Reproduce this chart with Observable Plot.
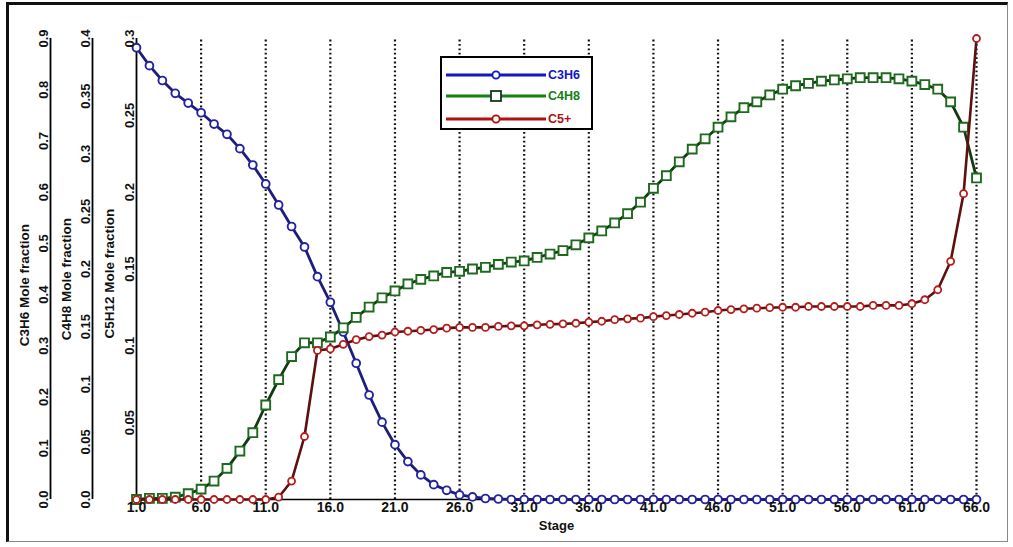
<!DOCTYPE html>
<html><head><meta charset="utf-8">
<script src="https://cdn.jsdelivr.net/npm/d3@7"></script>
<script src="https://cdn.jsdelivr.net/npm/@observablehq/plot@0.6"></script>
<style>
html,body{margin:0;padding:0;background:#fff;}
#wrap{position:relative;width:1013px;height:547px;overflow:hidden;font-family:"Liberation Sans",Arial,sans-serif;}
#border{position:absolute;left:6px;top:2px;width:1002px;height:540px;border:3px solid #111;border-right:1px solid #888;border-bottom:1px solid #888;box-sizing:border-box;pointer-events:none;}
#legend{position:absolute;left:440px;top:56px;width:153px;height:74px;border:2px solid #000;background:#fff;box-sizing:border-box;}
#legend .row{position:absolute;left:0;height:20px;width:150px;}
#legend svg{position:absolute;left:0;top:0;}
#legend span{position:absolute;left:106px;top:3px;font-size:12.5px;font-weight:bold;}
svg{overflow:visible}
</style></head>
<body><div id="wrap"><div id="chart"></div><div id="legend"></div><div id="border"></div></div>
<script>
// ---- data ----
const stages = d3.range(1, 67);
const c3h6 = [0.882,0.847,0.818,0.793,0.774,0.755,0.733,0.713,0.685,0.653,
  0.616,0.575,0.533,0.493,0.435,0.385,0.327,0.266,0.204,0.151,
  0.107,0.074,0.048,0.029,0.018,0.009,0.005,0.002,0.001,0,
  0,0,0,0,0,0,0,0,0,0, 0,0,0,0,0,0,0,0,0,0, 0,0,0,0,0,0,0,0,0,0, 0,0,0,0,0,0];
const c4h8 = [0,0.001,0.001,0.002,0.005,0.009,0.016,0.027,0.042,0.058,
  0.082,0.104,0.124,0.136,0.136,0.141,0.149,0.158,0.167,0.175,
  0.181,0.187,0.191,0.194,0.197,0.198,0.200,0.2015,0.204,0.206,
  0.207,0.210,0.213,0.216,0.221,0.227,0.233,0.240,0.248,0.258,
  0.270,0.281,0.293,0.304,0.313,0.323,0.332,0.340,0.345,0.351,
  0.356,0.359,0.361,0.363,0.364,0.365,0.366,0.366,0.366,0.365,
  0.363,0.360,0.356,0.345,0.323,0.279];
const c5plus = [0,0,0,0,0,0,0,0,0,0,
  0,0.0015,0.012,0.041,0.097,0.098,0.101,0.104,0.106,0.107,
  0.109,0.1095,0.110,0.1106,0.1115,0.112,0.112,0.112,0.1126,0.113,
  0.113,0.1137,0.114,0.1143,0.1147,0.1154,0.116,0.117,0.1176,0.118,
  0.119,0.1197,0.1204,0.1212,0.1219,0.123,0.1236,0.1241,0.1245,0.1248,
  0.1251,0.1251,0.1256,0.1256,0.1256,0.1256,0.1256,0.1263,0.1263,0.1263,
  0.1274,0.130,0.1365,0.155,0.199,0.300];
const seriesNames = ["C3H6", "C4H8", "C5+"];
const axisMax = {C3H6: 0.9, C4H8: 0.4, C5H12: 0.3};
const xTicks = [1,6,11,16,21,26,31,36,41,46,51,56,61,66];
const xTickLabels = ["1.0","6.0","11.0","16.0","21.0","26.0","31.0","36.0","41.0","46.0","51.0","56.0","61.0","66.0"];
const gridStages = [6,11,16,21,26,31,36,41,46,51,56,61,66];
const c3h6Ticks = [0,0.1,0.2,0.3,0.4,0.5,0.6,0.7,0.8,0.9];
const c3h6TickLabels = ["0.0","0.1","0.2","0.3","0.4","0.5","0.6","0.7","0.8","0.9"];
const c4h8Ticks = [0,0.05,0.1,0.15,0.2,0.25,0.3,0.35,0.4];
const c4h8TickLabels = ["0.0","0.05","0.1","0.15","0.2","0.25","0.3","0.35","0.4"];
const c5h12Ticks = [0.05,0.1,0.15,0.2,0.25,0.3];
const c5h12TickLabels = ["0.05","0.1","0.15","0.2","0.25","0.3"];
const axisTitles = ["C3H6 Mole fraction", "C4H8 Mole fraction", "C5H12 Mole fraction"];
const xTitle = "Stage";

// styles
const lineColors = {"C3H6": "#1d1d7c", "C4H8": "#143a14", "C5+": "#5e0f0f"};
const markColors = {"C3H6": "#2424a0", "C4H8": "#1d6a1d", "C5+": "#b51c1c"};
const legendColors = {"C3H6": "#1414c8", "C4H8": "#138013", "C5+": "#b01010"};

const mk = (vals, max) => stages.map((s, i) => ({stage: s, v: vals[i] / max}));
const d1 = mk(c3h6, axisMax.C3H6), d2 = mk(c4h8, axisMax.C4H8), d3s = mk(c5plus, axisMax.C5H12);

function yAxis(ticks, labels, max, dx) {
  const fr = ticks.map(t => t / max);
  return Plot.axisY(fr, {anchor: "left", dx, tickSize: 0, tickPadding: 3, tickRotate: -90,
    tickFormat: d => labels[fr.indexOf(d)], fontSize: 13, fontWeight: "bold", label: null});
}
function title(t, dx, yc) {
  return Plot.text([t], {x: () => 1, y: () => yc, text: d => d, rotate: -90, dx,
    fontSize: 13.5, fontWeight: "bold", fill: "#111"});
}

const chart = Plot.plot({
  width: 1013, height: 547,
  marginLeft: 136, marginRight: 37, marginTop: 38, marginBottom: 48,
  x: {domain: [1, 66]},
  y: {domain: [0, 1]},
  style: {fontFamily: "'Liberation Sans', Arial, sans-serif", background: "transparent", color: "#111"},
  marks: [
    Plot.ruleX(gridStages, {y1: 0, y2: 1, stroke: "#111", strokeWidth: 2.2, strokeDasharray: "1.8,2.6"}),
    Plot.ruleY([0], {stroke: "#000", strokeWidth: 1.6}),
    Plot.ruleX([1], {y1: 0, y2: 1, stroke: "#000", strokeWidth: 1.8, dx: -86}),
    Plot.ruleX([1], {y1: 0, y2: 1, stroke: "#000", strokeWidth: 1.8, dx: -44}),
    Plot.ruleX([1], {y1: 0, y2: 1, stroke: "#000", strokeWidth: 1.8}),
    Plot.line(d1, {x: "stage", y: "v", stroke: lineColors["C3H6"], strokeWidth: 2.8}),
    Plot.dot(d1, {x: "stage", y: "v", r: 3.9, stroke: markColors["C3H6"], strokeWidth: 1.9, fill: "#fff"}),
    Plot.line(d2, {x: "stage", y: "v", stroke: lineColors["C4H8"], strokeWidth: 2.8}),
    Plot.dot(d2, {x: "stage", y: "v", symbol: "square", r: 5, stroke: markColors["C4H8"], strokeWidth: 1.9, fill: "#fff"}),
    Plot.line(d3s, {x: "stage", y: "v", stroke: lineColors["C5+"], strokeWidth: 2.6}),
    Plot.dot(d3s, {x: "stage", y: "v", r: 3.5, stroke: markColors["C5+"], strokeWidth: 1.8, fill: "#fff"}),
    Plot.axisX(xTicks, {tickSize: 0, tickPadding: 3, tickFormat: d => xTickLabels[xTicks.indexOf(d)],
      fontSize: 14, fontWeight: "bold", label: null}),
    Plot.text([xTitle], {frameAnchor: "bottom", dy: 30, text: d => d, fontSize: 13, fontWeight: "bold"}),
    yAxis(c3h6Ticks, c3h6TickLabels, axisMax.C3H6, -86),
    yAxis(c4h8Ticks, c4h8TickLabels, axisMax.C4H8, -44),
    yAxis(c5h12Ticks, c5h12TickLabels, axisMax.C5H12, 0),
    title(axisTitles[0], -112, 0.465),
    title(axisTitles[1], -70, 0.478),
    title(axisTitles[2], -27, 0.49)
  ]
});
document.getElementById("chart").appendChild(chart);

// legend
const leg = document.getElementById("legend");
const rowTops = [7, 28, 51];
seriesNames.forEach((n, i) => {
  const row = document.createElement("div");
  row.className = "row";
  row.style.top = rowTops[i] + "px";
  const isSq = n === "C4H8";
  row.innerHTML = `<svg width="106" height="20"><line x1="4" x2="104" y1="10" y2="10" stroke="${legendColors[n]}" stroke-width="3"/>` +
    (isSq ? `<rect x="49" y="5" width="10" height="10" fill="#fff" stroke="${lineColors[n]}" stroke-width="1.8"/>`
          : `<circle cx="54" cy="10" r="3.6" fill="#fff" stroke="${legendColors[n]}" stroke-width="1.8"/>`) +
    `</svg><span style="color:${legendColors[n]}">${n}</span>`;
  leg.appendChild(row);
});
</script></body></html>
